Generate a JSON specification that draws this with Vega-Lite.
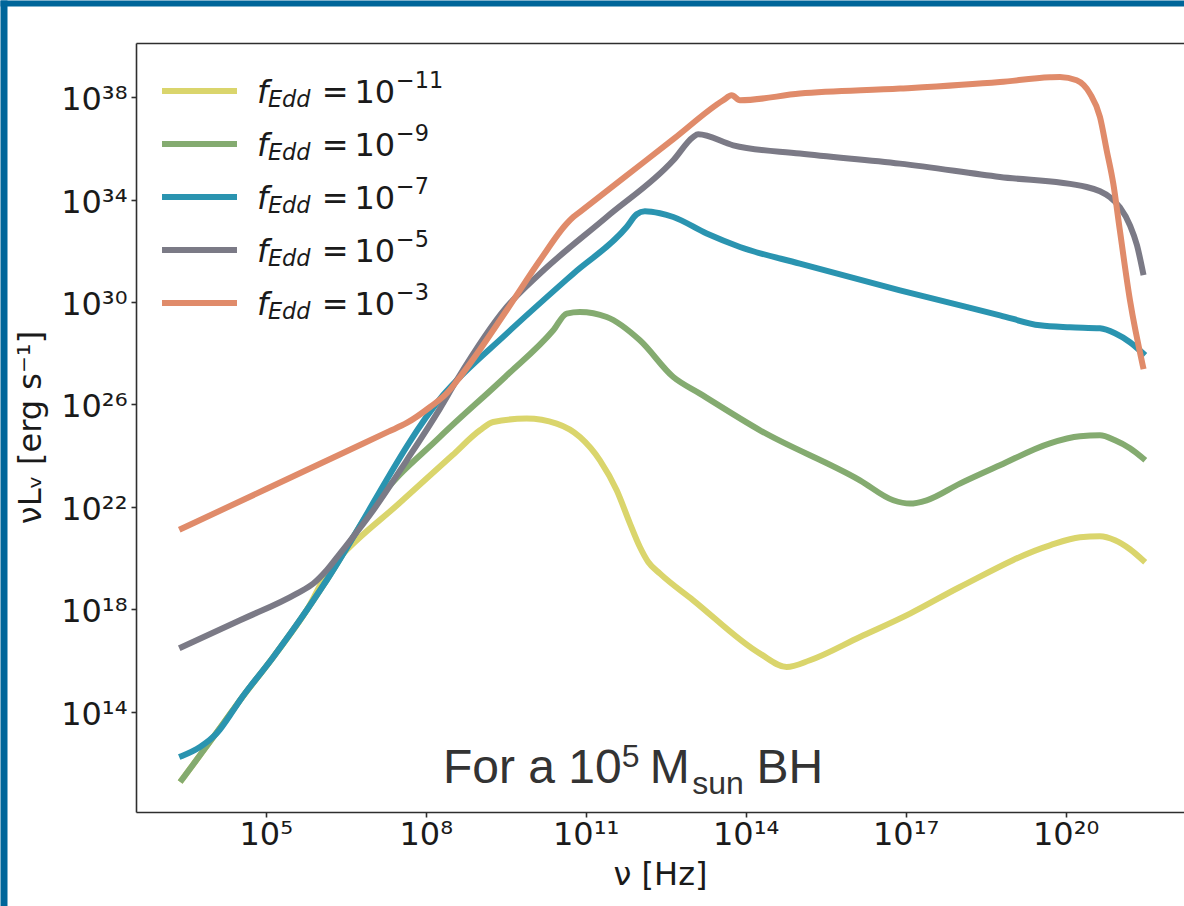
{
  "$schema": "https://vega.github.io/schema/vega-lite/v6.json",
  "width": 1048,
  "height": 769,
  "autosize": {"type": "none"},
  "padding": {"left": 136, "top": 43, "right": 0, "bottom": 94},
  "background": "#ffffff",
  "config": {
    "view": {"stroke": null},
    "axis": {
      "labelFont": "DejaVu Sans",
      "labelFontSize": 32,
      "labelColor": "#1a1a1a",
      "titleFont": "DejaVu Sans",
      "titleFontSize": 32,
      "titleFontWeight": "normal",
      "titleColor": "#1a1a1a",
      "tickColor": "#2e2e2e",
      "tickWidth": 1.6,
      "tickSize": 5,
      "domainColor": "#2e2e2e",
      "domainWidth": 1.6,
      "domain": false,
      "grid": false
    }
  },
  "datasets": {
    "sed": [
      {"fEdd": "1e-11", "nu": 2.69e3, "nuLnu": 2.22e11},
      {"fEdd": "1e-11", "nu": 1.60e4, "nuLnu": 3.42e13},
      {"fEdd": "1e-11", "nu": 3.30e4, "nuLnu": 2.78e14},
      {"fEdd": "1e-11", "nu": 1.39e5, "nuLnu": 1.37e16},
      {"fEdd": "1e-11", "nu": 5.87e5, "nuLnu": 9.12e17},
      {"fEdd": "1e-11", "nu": 1.61e6, "nuLnu": 3.98e19},
      {"fEdd": "1e-11", "nu": 2.47e6, "nuLnu": 1.10e20},
      {"fEdd": "1e-11", "nu": 3.16e7, "nuLnu": 1.35e22},
      {"fEdd": "1e-11", "nu": 3.16e8, "nuLnu": 1.03e24},
      {"fEdd": "1e-11", "nu": 1.04e9, "nuLnu": 9.79e24},
      {"fEdd": "1e-11", "nu": 1.85e9, "nuLnu": 2.07e25},
      {"fEdd": "1e-11", "nu": 7.83e9, "nuLnu": 2.81e25},
      {"fEdd": "1e-11", "nu": 2.86e10, "nuLnu": 1.79e25},
      {"fEdd": "1e-11", "nu": 7.82e10, "nuLnu": 5.36e24},
      {"fEdd": "1e-11", "nu": 1.85e11, "nuLnu": 6.59e23},
      {"fEdd": "1e-11", "nu": 3.82e11, "nuLnu": 4.44e22},
      {"fEdd": "1e-11", "nu": 6.78e11, "nuLnu": 2.22e21},
      {"fEdd": "1e-11", "nu": 1.04e12, "nuLnu": 2.71e20},
      {"fEdd": "1e-11", "nu": 1.49e12, "nuLnu": 7.03e19},
      {"fEdd": "1e-11", "nu": 2.48e12, "nuLnu": 2.47e19},
      {"fEdd": "1e-11", "nu": 1.04e13, "nuLnu": 2.24e18},
      {"fEdd": "1e-11", "nu": 1.86e14, "nuLnu": 1.85e16},
      {"fEdd": "1e-11", "nu": 5.87e14, "nuLnu": 5.56e15},
      {"fEdd": "1e-11", "nu": 1.61e15, "nuLnu": 1.02e16},
      {"fEdd": "1e-11", "nu": 1.39e16, "nuLnu": 8.26e16},
      {"fEdd": "1e-11", "nu": 1.21e17, "nuLnu": 6.78e17},
      {"fEdd": "1e-11", "nu": 1.04e18, "nuLnu": 7.41e18},
      {"fEdd": "1e-11", "nu": 5.09e19, "nuLnu": 3.16e20},
      {"fEdd": "1e-11", "nu": 1.86e20, "nuLnu": 6.47e20},
      {"fEdd": "1e-11", "nu": 4.41e20, "nuLnu": 7.08e20},
      {"fEdd": "1e-11", "nu": 8.43e20, "nuLnu": 4.94e20},
      {"fEdd": "1e-11", "nu": 1.61e21, "nuLnu": 2.20e20},
      {"fEdd": "1e-11", "nu": 2.82e21, "nuLnu": 8.18e19},

      {"fEdd": "1e-9", "nu": 2.69e3, "nuLnu": 2.22e11},
      {"fEdd": "1e-9", "nu": 1.60e4, "nuLnu": 3.42e13},
      {"fEdd": "1e-9", "nu": 3.30e4, "nuLnu": 2.78e14},
      {"fEdd": "1e-9", "nu": 1.39e5, "nuLnu": 1.37e16},
      {"fEdd": "1e-9", "nu": 5.87e5, "nuLnu": 9.12e17},
      {"fEdd": "1e-9", "nu": 1.39e6, "nuLnu": 1.36e19},
      {"fEdd": "1e-9", "nu": 1.17e7, "nuLnu": 1.53e22},
      {"fEdd": "1e-9", "nu": 1.85e8, "nuLnu": 5.41e24},
      {"fEdd": "1e-9", "nu": 3.16e9, "nuLnu": 1.24e27},
      {"fEdd": "1e-9", "nu": 2.47e10, "nuLnu": 7.89e28},
      {"fEdd": "1e-9", "nu": 4.41e10, "nuLnu": 3.55e29},
      {"fEdd": "1e-9", "nu": 7.82e10, "nuLnu": 4.09e29},
      {"fEdd": "1e-9", "nu": 2.48e11, "nuLnu": 2.61e29},
      {"fEdd": "1e-9", "nu": 1.04e12, "nuLnu": 3.21e28},
      {"fEdd": "1e-9", "nu": 4.40e12, "nuLnu": 1.18e27},
      {"fEdd": "1e-9", "nu": 1.39e13, "nuLnu": 2.66e26},
      {"fEdd": "1e-9", "nu": 1.86e14, "nuLnu": 9.79e24},
      {"fEdd": "1e-9", "nu": 1.39e16, "nuLnu": 1.09e23},
      {"fEdd": "1e-9", "nu": 5.86e16, "nuLnu": 1.81e22},
      {"fEdd": "1e-9", "nu": 1.21e17, "nuLnu": 1.34e22},
      {"fEdd": "1e-9", "nu": 2.48e17, "nuLnu": 1.81e22},
      {"fEdd": "1e-9", "nu": 1.04e18, "nuLnu": 8.11e22},
      {"fEdd": "1e-9", "nu": 5.87e18, "nuLnu": 4.21e23},
      {"fEdd": "1e-9", "nu": 5.09e19, "nuLnu": 3.04e24},
      {"fEdd": "1e-9", "nu": 1.86e20, "nuLnu": 5.71e24},
      {"fEdd": "1e-9", "nu": 4.41e20, "nuLnu": 6.25e24},
      {"fEdd": "1e-9", "nu": 8.43e20, "nuLnu": 3.98e24},
      {"fEdd": "1e-9", "nu": 1.61e21, "nuLnu": 1.94e24},
      {"fEdd": "1e-9", "nu": 2.82e21, "nuLnu": 7.89e23},

      {"fEdd": "1e-7", "nu": 2.69e3, "nuLnu": 1.86e12},
      {"fEdd": "1e-7", "nu": 5.86e3, "nuLnu": 4.17e12},
      {"fEdd": "1e-7", "nu": 1.21e4, "nuLnu": 1.43e13},
      {"fEdd": "1e-7", "nu": 2.47e4, "nuLnu": 1.13e14},
      {"fEdd": "1e-7", "nu": 3.30e4, "nuLnu": 2.78e14},
      {"fEdd": "1e-7", "nu": 1.39e5, "nuLnu": 1.37e16},
      {"fEdd": "1e-7", "nu": 5.87e5, "nuLnu": 9.12e17},
      {"fEdd": "1e-7", "nu": 1.39e6, "nuLnu": 1.36e19},
      {"fEdd": "1e-7", "nu": 2.11e8, "nuLnu": 2.28e26},
      {"fEdd": "1e-7", "nu": 3.30e9, "nuLnu": 5.86e28},
      {"fEdd": "1e-7", "nu": 5.86e10, "nuLnu": 1.29e31},
      {"fEdd": "1e-7", "nu": 5.87e11, "nuLnu": 8.57e32},
      {"fEdd": "1e-7", "nu": 9.06e11, "nuLnu": 2.69e33},
      {"fEdd": "1e-7", "nu": 1.29e12, "nuLnu": 3.52e33},
      {"fEdd": "1e-7", "nu": 2.47e12, "nuLnu": 2.94e33},
      {"fEdd": "1e-7", "nu": 4.40e12, "nuLnu": 2.10e33},
      {"fEdd": "1e-7", "nu": 1.86e13, "nuLnu": 4.73e32},
      {"fEdd": "1e-7", "nu": 7.82e13, "nuLnu": 1.42e32},
      {"fEdd": "1e-7", "nu": 1.04e15, "nuLnu": 3.18e31},
      {"fEdd": "1e-7", "nu": 7.83e16, "nuLnu": 2.88e30},
      {"fEdd": "1e-7", "nu": 5.87e18, "nuLnu": 3.04e29},
      {"fEdd": "1e-7", "nu": 3.30e19, "nuLnu": 1.24e29},
      {"fEdd": "1e-7", "nu": 1.21e20, "nuLnu": 1.04e29},
      {"fEdd": "1e-7", "nu": 4.41e20, "nuLnu": 9.46e28},
      {"fEdd": "1e-7", "nu": 8.43e20, "nuLnu": 6.03e28},
      {"fEdd": "1e-7", "nu": 1.61e21, "nuLnu": 2.69e28},
      {"fEdd": "1e-7", "nu": 2.82e21, "nuLnu": 1.00e28},

      {"fEdd": "1e-5", "nu": 2.69e3, "nuLnu": 3.36e16},
      {"fEdd": "1e-5", "nu": 3.30e4, "nuLnu": 3.71e17},
      {"fEdd": "1e-5", "nu": 3.81e5, "nuLnu": 4.09e18},
      {"fEdd": "1e-5", "nu": 7.82e5, "nuLnu": 1.01e19},
      {"fEdd": "1e-5", "nu": 1.39e6, "nuLnu": 3.33e19},
      {"fEdd": "1e-5", "nu": 2.47e6, "nuLnu": 1.50e20},
      {"fEdd": "1e-5", "nu": 1.04e7, "nuLnu": 7.35e21},
      {"fEdd": "1e-5", "nu": 4.41e7, "nuLnu": 6.59e23},
      {"fEdd": "1e-5", "nu": 1.85e8, "nuLnu": 6.90e25},
      {"fEdd": "1e-5", "nu": 3.81e8, "nuLnu": 8.79e26},
      {"fEdd": "1e-5", "nu": 3.30e9, "nuLnu": 6.43e29},
      {"fEdd": "1e-5", "nu": 1.39e10, "nuLnu": 1.29e31},
      {"fEdd": "1e-5", "nu": 2.48e11, "nuLnu": 2.10e33},
      {"fEdd": "1e-5", "nu": 4.40e12, "nuLnu": 3.45e35},
      {"fEdd": "1e-5", "nu": 1.04e13, "nuLnu": 2.81e36},
      {"fEdd": "1e-5", "nu": 1.29e13, "nuLnu": 3.58e36},
      {"fEdd": "1e-5", "nu": 5.86e13, "nuLnu": 1.33e36},
      {"fEdd": "1e-5", "nu": 1.04e15, "nuLnu": 6.31e35},
      {"fEdd": "1e-5", "nu": 7.83e16, "nuLnu": 2.56e35},
      {"fEdd": "1e-5", "nu": 5.87e18, "nuLnu": 7.69e34},
      {"fEdd": "1e-5", "nu": 2.48e20, "nuLnu": 3.13e34},
      {"fEdd": "1e-5", "nu": 4.41e20, "nuLnu": 2.12e34},
      {"fEdd": "1e-5", "nu": 6.79e20, "nuLnu": 1.24e34},
      {"fEdd": "1e-5", "nu": 1.04e21, "nuLnu": 5.04e33},
      {"fEdd": "1e-5", "nu": 1.61e21, "nuLnu": 9.98e32},
      {"fEdd": "1e-5", "nu": 2.18e21, "nuLnu": 1.65e32},
      {"fEdd": "1e-5", "nu": 2.82e21, "nuLnu": 1.46e31},

      {"fEdd": "1e-3", "nu": 2.69e3, "nuLnu": 1.42e21},
      {"fEdd": "1e-3", "nu": 1.00e5, "nuLnu": 4.86e22},
      {"fEdd": "1e-3", "nu": 3.16e6, "nuLnu": 1.43e24},
      {"fEdd": "1e-3", "nu": 2.00e7, "nuLnu": 8.69e24},
      {"fEdd": "1e-3", "nu": 4.41e7, "nuLnu": 1.89e25},
      {"fEdd": "1e-3", "nu": 1.21e8, "nuLnu": 7.96e25},
      {"fEdd": "1e-3", "nu": 2.48e8, "nuLnu": 2.73e26},
      {"fEdd": "1e-3", "nu": 4.40e8, "nuLnu": 1.18e27},
      {"fEdd": "1e-3", "nu": 3.30e9, "nuLnu": 4.78e29},
      {"fEdd": "1e-3", "nu": 1.39e10, "nuLnu": 4.29e31},
      {"fEdd": "1e-3", "nu": 4.41e10, "nuLnu": 1.16e33},
      {"fEdd": "1e-3", "nu": 5.86e10, "nuLnu": 2.10e33},
      {"fEdd": "1e-3", "nu": 7.94e10, "nuLnu": 3.44e33},
      {"fEdd": "1e-3", "nu": 5.07e11, "nuLnu": 6.95e34},
      {"fEdd": "1e-3", "nu": 4.40e12, "nuLnu": 2.30e36},
      {"fEdd": "1e-3", "nu": 3.80e13, "nuLnu": 7.62e37},
      {"fEdd": "1e-3", "nu": 5.47e13, "nuLnu": 1.19e38},
      {"fEdd": "1e-3", "nu": 7.82e13, "nuLnu": 7.62e37},
      {"fEdd": "1e-3", "nu": 1.04e15, "nuLnu": 1.39e38},
      {"fEdd": "1e-3", "nu": 7.83e16, "nuLnu": 2.18e38},
      {"fEdd": "1e-3", "nu": 5.87e18, "nuLnu": 3.95e38},
      {"fEdd": "1e-3", "nu": 5.09e19, "nuLnu": 6.03e38},
      {"fEdd": "1e-3", "nu": 7.83e19, "nuLnu": 6.19e38},
      {"fEdd": "1e-3", "nu": 1.61e20, "nuLnu": 4.60e38},
      {"fEdd": "1e-3", "nu": 2.86e20, "nuLnu": 1.39e38},
      {"fEdd": "1e-3", "nu": 4.41e20, "nuLnu": 1.69e37},
      {"fEdd": "1e-3", "nu": 5.89e20, "nuLnu": 8.49e35},
      {"fEdd": "1e-3", "nu": 7.83e20, "nuLnu": 4.25e34},
      {"fEdd": "1e-3", "nu": 1.04e21, "nuLnu": 6.37e32},
      {"fEdd": "1e-3", "nu": 1.61e21, "nuLnu": 1.17e30},
      {"fEdd": "1e-3", "nu": 2.82e21, "nuLnu": 3.10e27}
    ],
    "key": [
      {"fEdd": "1e-11", "exponent": "−11"},
      {"fEdd": "1e-9", "exponent": "−9"},
      {"fEdd": "1e-7", "exponent": "−7"},
      {"fEdd": "1e-5", "exponent": "−5"},
      {"fEdd": "1e-3", "exponent": "−3"}
    ]
  },
  "resolve": {"scale": {"y": "independent"}},
  "layer": [
    {
      "layer": [
        {
          "data": {"name": "sed"},
          "mark": {"type": "line", "strokeWidth": 6, "strokeCap": "square", "strokeJoin": "round", "interpolate": "monotone"},
          "encoding": {
            "x": {
              "field": "nu", "type": "quantitative",
              "scale": {"type": "log", "domain": [369.8, 1.6596e22], "nice": false},
              "axis": {
                "orient": "bottom",
                "values": [1e5, 1e8, 1e11, 1e14, 1e17, 1e20],
                "labelExpr": "datum.value < 1e6 ? '10⁵' : datum.value < 1e9 ? '10⁸' : datum.value < 1e12 ? '10¹¹' : datum.value < 1e15 ? '10¹⁴' : datum.value < 1e18 ? '10¹⁷' : '10²⁰'",
                "labelBaseline": "alphabetic",
                "labelPadding": 27,
                "labelFlush": false,
                "labelOverlap": false,
                "domain": true,
                "title": "ν [Hz]",
                "titleY": 72,
                "titleBaseline": "alphabetic"
              }
            },
            "y": {
              "field": "nuLnu", "type": "quantitative",
              "scale": {"type": "log", "domain": [1.2023e10, 1.3183e40], "nice": false},
              "axis": {
                "orient": "left",
                "values": [1e14, 1e18, 1e22, 1e26, 1e30, 1e34, 1e38, 1.3183e40],
                "labelExpr": "datum.value > 1e39 ? '' : datum.value < 1e16 ? '10¹⁴' : datum.value < 1e20 ? '10¹⁸' : datum.value < 1e24 ? '10²²' : datum.value < 1e28 ? '10²⁶' : datum.value < 1e32 ? '10³⁰' : datum.value < 1e36 ? '10³⁴' : '10³⁸'",
                "labelPadding": 4,
                "labelOffset": 2.5,
                "labelFlush": false,
                "labelOverlap": false,
                "domain": true,
                "grid": true,
                "gridColor": "#2e2e2e",
                "gridWidth": 1.6,
                "gridOpacity": {"condition": {"test": "datum.value > 1e39", "value": 1}, "value": 0},
                "tickOpacity": {"condition": {"test": "datum.value > 1e39", "value": 0}, "value": 1},
                "title": "νLᵥ [erg s⁻¹]",
                "titleAngle": 270,
                "titleX": -96,
                "titleY": 384,
                "titleAlign": "center",
                "titleBaseline": "alphabetic"
              }
            },
            "color": {
              "field": "fEdd", "type": "nominal",
              "scale": {
                "domain": ["1e-11", "1e-9", "1e-7", "1e-5", "1e-3"],
                "range": ["#dad56c", "#84ab70", "#2a94b0", "#7b7a86", "#e08b6a"]
              },
              "legend": null
            }
          }
        },
        {
          "data": {"values": [{}]},
          "mark": {"type": "text", "text": "For a 10", "font": "Liberation Sans", "fontSize": 48, "color": "#333333", "align": "left", "baseline": "alphabetic", "dx": -142.7, "dy": 20.1},
          "encoding": {
            "x": {
              "datum": 1e11, "type": "quantitative",
              "scale": {"type": "log", "domain": [369.8, 1.6596e22], "nice": false},
              "axis": {"orient": "top", "values": [369.8], "labels": false, "domain": false, "grid": false, "ticks": true, "tickSize": 906, "tickWidth": 7, "tickColor": "#00669a", "tickOffset": -132.5, "tickRound": false, "offset": -863, "title": null}
            },
            "y": {
              "datum": 1e12, "type": "quantitative",
              "scale": {"type": "log", "domain": [1.2023e10, 1.3183e40], "nice": false},
              "axis": {"orient": "right", "values": [1.3183e40], "labels": false, "domain": false, "grid": false, "ticks": true, "tickSize": 1184, "tickWidth": 6, "tickColor": "#00669a", "tickOffset": -40, "tickRound": false, "offset": -1184, "title": null}
            }
          }
        },
        {
          "data": {"values": [{}]},
          "mark": {"type": "text", "text": "5", "font": "Liberation Sans", "fontSize": 32, "color": "#333333", "align": "left", "baseline": "alphabetic", "dx": 36, "dy": 4.1},
          "encoding": {
            "x": {"datum": 1e11, "type": "quantitative", "axis": null},
            "y": {"datum": 1e12, "type": "quantitative", "axis": null}
          }
        },
        {
          "data": {"values": [{}]},
          "mark": {"type": "text", "text": "M", "font": "Liberation Sans", "fontSize": 48, "color": "#333333", "align": "left", "baseline": "alphabetic", "dx": 64, "dy": 20.1},
          "encoding": {
            "x": {"datum": 1e11, "type": "quantitative", "axis": null},
            "y": {"datum": 1e12, "type": "quantitative", "axis": null}
          }
        },
        {
          "data": {"values": [{}]},
          "mark": {"type": "text", "text": "sun", "font": "Liberation Sans", "fontSize": 32, "color": "#333333", "align": "left", "baseline": "alphabetic", "dx": 106.5, "dy": 31.5},
          "encoding": {
            "x": {"datum": 1e11, "type": "quantitative", "axis": null},
            "y": {"datum": 1e12, "type": "quantitative", "axis": null}
          }
        },
        {
          "data": {"values": [{}]},
          "mark": {"type": "text", "text": "BH", "font": "Liberation Sans", "fontSize": 48, "color": "#333333", "align": "left", "baseline": "alphabetic", "dx": 170.8, "dy": 20.1},
          "encoding": {
            "x": {"datum": 1e11, "type": "quantitative", "axis": null},
            "y": {"datum": 1e12, "type": "quantitative", "axis": null}
          }
        }
      ]
    },
    {
      "data": {"name": "key"},
      "encoding": {
        "y": {
          "field": "fEdd", "type": "nominal",
          "scale": {"type": "point", "domain": ["1e-11", "1e-9", "1e-7", "1e-5", "1e-3"], "range": [48, 260], "padding": 0},
          "axis": null
        }
      },
      "layer": [
        {
          "mark": {"type": "rule", "strokeWidth": 6, "strokeCap": "butt"},
          "encoding": {
            "x": {"datum": 1137, "type": "quantitative", "scale": {"type": "log", "domain": [369.8, 1.6596e22], "nice": false}, "axis": null},
            "x2": {"datum": 28960},
            "color": {"field": "fEdd", "type": "nominal", "legend": null}
          }
        },
        {
          "mark": {"type": "text", "text": "f", "font": "DejaVu Sans", "fontStyle": "italic", "fontSize": 32, "color": "#1a1a1a", "align": "left", "baseline": "alphabetic", "dx": 44.6, "dy": 12.3},
          "encoding": {"x": {"datum": 10000, "type": "quantitative", "axis": null}}
        },
        {
          "mark": {"type": "text", "text": "Edd", "font": "DejaVu Sans", "fontStyle": "italic", "fontSize": 22.4, "color": "#1a1a1a", "align": "left", "baseline": "alphabetic", "dx": 55.6, "dy": 15.8},
          "encoding": {"x": {"datum": 10000, "type": "quantitative", "axis": null}}
        },
        {
          "mark": {"type": "text", "text": "=", "font": "DejaVu Sans", "fontSize": 32, "color": "#1a1a1a", "align": "left", "baseline": "alphabetic", "dx": 109.4, "dy": 12.3},
          "encoding": {"x": {"datum": 10000, "type": "quantitative", "axis": null}}
        },
        {
          "mark": {"type": "text", "text": "10", "font": "DejaVu Sans", "fontSize": 32, "color": "#1a1a1a", "align": "left", "baseline": "alphabetic", "dx": 142.1, "dy": 12.3},
          "encoding": {"x": {"datum": 10000, "type": "quantitative", "axis": null}}
        },
        {
          "mark": {"type": "text", "font": "DejaVu Sans", "fontSize": 22.4, "color": "#1a1a1a", "align": "left", "baseline": "alphabetic", "dx": 183.6, "dy": -2.7},
          "encoding": {
            "x": {"datum": 10000, "type": "quantitative", "axis": null},
            "text": {"field": "exponent", "type": "nominal"}
          }
        }
      ]
    }
  ]
}
